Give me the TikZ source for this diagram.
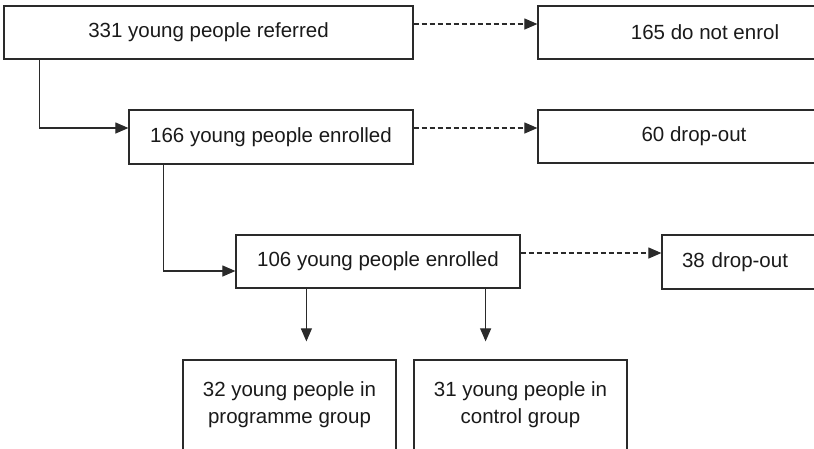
\documentclass[tikz,border=0pt]{standalone}
\usepackage{fontspec}
\setmainfont{Liberation Sans}
\usetikzlibrary{arrows.meta}
\pgfdeclarelayer{edgelayer}
\pgfdeclarelayer{nodelayer}
\pgfsetlayers{edgelayer,nodelayer,main}
\definecolor{linegray}{HTML}{2A2A2A}
\definecolor{textgray}{HTML}{1A1A1A}
\tikzstyle{box}=[rectangle, draw=linegray, line width=1.2pt, fill=white, inner sep=0pt, text=textgray, font=\fontsize{20.5}{27}\selectfont, minimum height=53]
\tikzstyle{sidebox}=[box, align=left, text width=180, inner xsep=20]
\tikzstyle{groupbox}=[box, align=center, minimum width=213, minimum height=90]
\tikzstyle{edge}=[draw=linegray, line width=1.1pt, -{Triangle[length=13pt,width=11pt]}]
\tikzstyle{dropedge}=[edge, dash pattern=on 5pt off 3pt]

\begin{document}
\begin{tikzpicture}[x=1pt, y=-1pt]
			\useasboundingbox (0, 0) rectangle (814, 448);
			\clip (0, 0) rectangle (814, 448);
			\begin{pgfonlayer}{nodelayer}
			\node [style=box, minimum width=409] (0) at (208.5, 32.5) {331 young people referred};
			\node [style=box, minimum width=334] (1) at (705, 32.5) {165 do not enrol};
			\node [style=box, minimum width=284, minimum height=54] (2) at (271, 137) {166 young people enrolled};
			\node [style=box, minimum width=312] (3) at (694, 136.5) {60 drop-out};
			\node [style=box, minimum width=284] (4) at (378, 261.5) {106 young people enrolled};
			\node [style=sidebox, minimum height=54] (5) at (772, 262) {38 drop-out};
			\node [style=groupbox] (6) at (289.5, 405) {32 young people in\\programme group};
			\node [style=groupbox] (7) at (520.5, 405) {31 young people in\\control group};
			\coordinate (a) at ([xshift=71]4.south west);
			\coordinate (b) at ([xshift=-35]4.south east);
			\end{pgfonlayer}
			\begin{pgfonlayer}{edgelayer}
			\draw [style=edge] ([xshift=36]0.south west) |- ([yshift=9]2.west);
			\draw [style=dropedge] ([yshift=8.5]0.east) -- ([yshift=8.5]1.west);
			\draw [style=dropedge] ([yshift=9]2.east) -- ([yshift=8.5]3.west);
			\draw [style=edge] ([xshift=35]2.south west) |- ([yshift=-9.5]4.west);
			\draw [style=dropedge] ([yshift=8.5]4.east) -- ([yshift=9]5.west);
			\draw [style=edge, shorten >=18] (a) -- (a |- 6.north);
			\draw [style=edge, shorten >=18] (b) -- (b |- 7.north);
			\end{pgfonlayer}
\end{tikzpicture}
\end{document}
